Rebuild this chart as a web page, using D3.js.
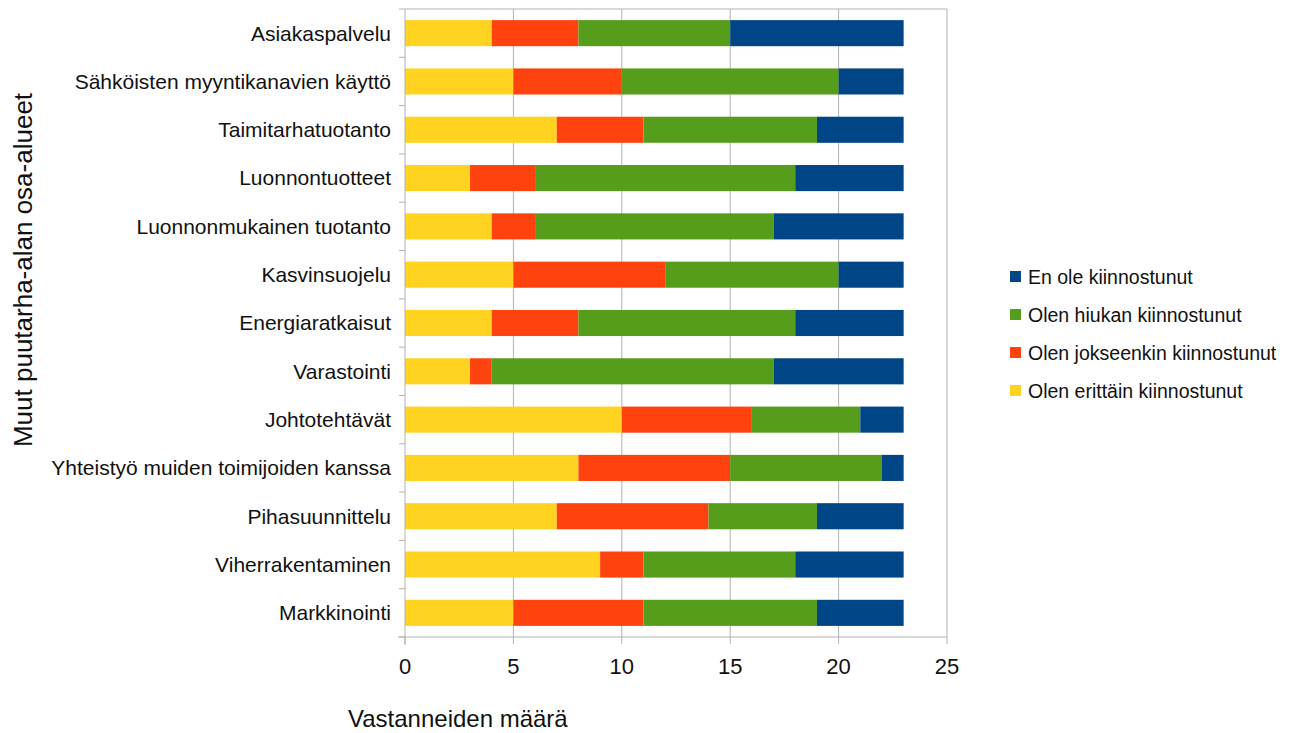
<!DOCTYPE html>
<html>
<head>
<meta charset="utf-8">
<script src="https://cdn.jsdelivr.net/npm/d3@7"></script>
<style>
  body { margin: 0; background: #fff; }
  text { font-family: "Liberation Sans", Arial, sans-serif; fill: #111; }
</style>
</head>
<body>
<svg id="chart" width="1294" height="733"></svg>
<script>
const categories = [
  'Asiakaspalvelu', 'Sähköisten myyntikanavien käyttö', 'Taimitarhatuotanto',
  'Luonnontuotteet', 'Luonnonmukainen tuotanto', 'Kasvinsuojelu',
  'Energiaratkaisut', 'Varastointi', 'Johtotehtävät',
  'Yhteistyö muiden toimijoiden kanssa', 'Pihasuunnittelu', 'Viherrakentaminen', 'Markkinointi'
];
const seriesNames = ['Olen erittäin kiinnostunut', 'Olen jokseenkin kiinnostunut', 'Olen hiukan kiinnostunut', 'En ole kiinnostunut'];
const erittain   = [4, 5, 7, 3, 4, 5, 4, 3, 10, 8, 7, 9, 5];
const jokseenkin = [4, 5, 4, 3, 2, 7, 4, 1, 6, 7, 7, 2, 6];
const hiukan     = [7, 10, 8, 12, 11, 8, 10, 13, 5, 7, 5, 7, 8];
const eiOle      = [8, 3, 4, 5, 6, 3, 5, 6, 2, 1, 4, 5, 4];
const colors = ['#FFD320', '#FF420E', '#579D1C', '#004586'];
const xTicks = [0, 5, 10, 15, 20, 25];

const svg = d3.select('#chart');
const margin = { left: 405, top: 9, right: 347, bottom: 96 };
const W = 1294 - margin.left - margin.right;
const H = 733 - margin.top - margin.bottom;

const g = svg.append('g').attr('transform', `translate(${margin.left},${margin.top})`);

const x = d3.scaleLinear().domain([0, 25]).range([0, W]);
const y = d3.scaleBand().domain(categories).range([0, H]).paddingInner(0.46).paddingOuter(0.23);

const rows = categories.map((c, i) => ({
  cat: c,
  [seriesNames[0]]: erittain[i],
  [seriesNames[1]]: jokseenkin[i],
  [seriesNames[2]]: hiukan[i],
  [seriesNames[3]]: eiOle[i]
}));
const stacked = d3.stack().keys(seriesNames)(rows);

// gridlines
g.selectAll('.grid').data(xTicks.slice(1)).enter().append('line')
  .attr('x1', d => x(d)).attr('x2', d => x(d))
  .attr('y1', 0).attr('y2', H)
  .attr('stroke', '#b3b3b3').attr('stroke-width', 1);
// top border
g.append('line').attr('x1', 0).attr('x2', W).attr('y1', 0).attr('y2', 0)
  .attr('stroke', '#b3b3b3');

// bars
g.selectAll('.series').data(stacked).enter().append('g')
  .attr('fill', (d, i) => colors[i])
  .selectAll('rect').data(d => d).enter().append('rect')
  .attr('x', d => x(d[0]))
  .attr('width', d => x(d[1]) - x(d[0]))
  .attr('y', d => y(d.data.cat))
  .attr('height', y.bandwidth());

// y axis
g.append('line').attr('x1', 0).attr('x2', 0).attr('y1', 0).attr('y2', H + 8)
  .attr('stroke', '#b3b3b3');
g.selectAll('.ytick').data(d3.range(categories.length + 1)).enter().append('line')
  .attr('x1', -6).attr('x2', 0)
  .attr('y1', i => i * H / categories.length).attr('y2', i => i * H / categories.length)
  .attr('stroke', '#b3b3b3');
g.selectAll('.ylab').data(categories).enter().append('text')
  .attr('x', -14)
  .attr('y', d => y(d) + y.bandwidth() / 2)
  .attr('dy', '0.35em')
  .attr('text-anchor', 'end')
  .attr('font-size', 21)
  .text(d => d);

// x axis
g.append('line').attr('x1', -7).attr('x2', W).attr('y1', H).attr('y2', H)
  .attr('stroke', '#b3b3b3');
g.selectAll('.xtick').data(xTicks).enter().append('line')
  .attr('x1', d => x(d)).attr('x2', d => x(d))
  .attr('y1', H).attr('y2', H + 7)
  .attr('stroke', '#b3b3b3');
g.selectAll('.xlab').data(xTicks).enter().append('text')
  .attr('x', d => x(d)).attr('y', H + 37)
  .attr('text-anchor', 'middle')
  .attr('font-size', 22)
  .text(d => d);

// axis titles
svg.append('text').attr('x', 348).attr('y', 727)
  .attr('font-size', 24).text('Vastanneiden määrä');
svg.append('text')
  .attr('transform', 'translate(32,270) rotate(-90)')
  .attr('text-anchor', 'middle')
  .attr('font-size', 26)
  .text('Muut puutarha-alan osa-alueet');

// legend
const legendOrder = [3, 2, 1, 0];
const lg = svg.append('g').attr('transform', 'translate(1010,271)');
legendOrder.forEach((si, k) => {
  const row = lg.append('g').attr('transform', `translate(0,${k * 38})`);
  row.append('rect').attr('width', 11).attr('height', 11).attr('fill', colors[si]);
  row.append('text').attr('x', 18).attr('y', 6).attr('dy', '0.35em')
    .attr('font-size', 19.5).text(seriesNames[si]);
});
</script>
</body>
</html>
